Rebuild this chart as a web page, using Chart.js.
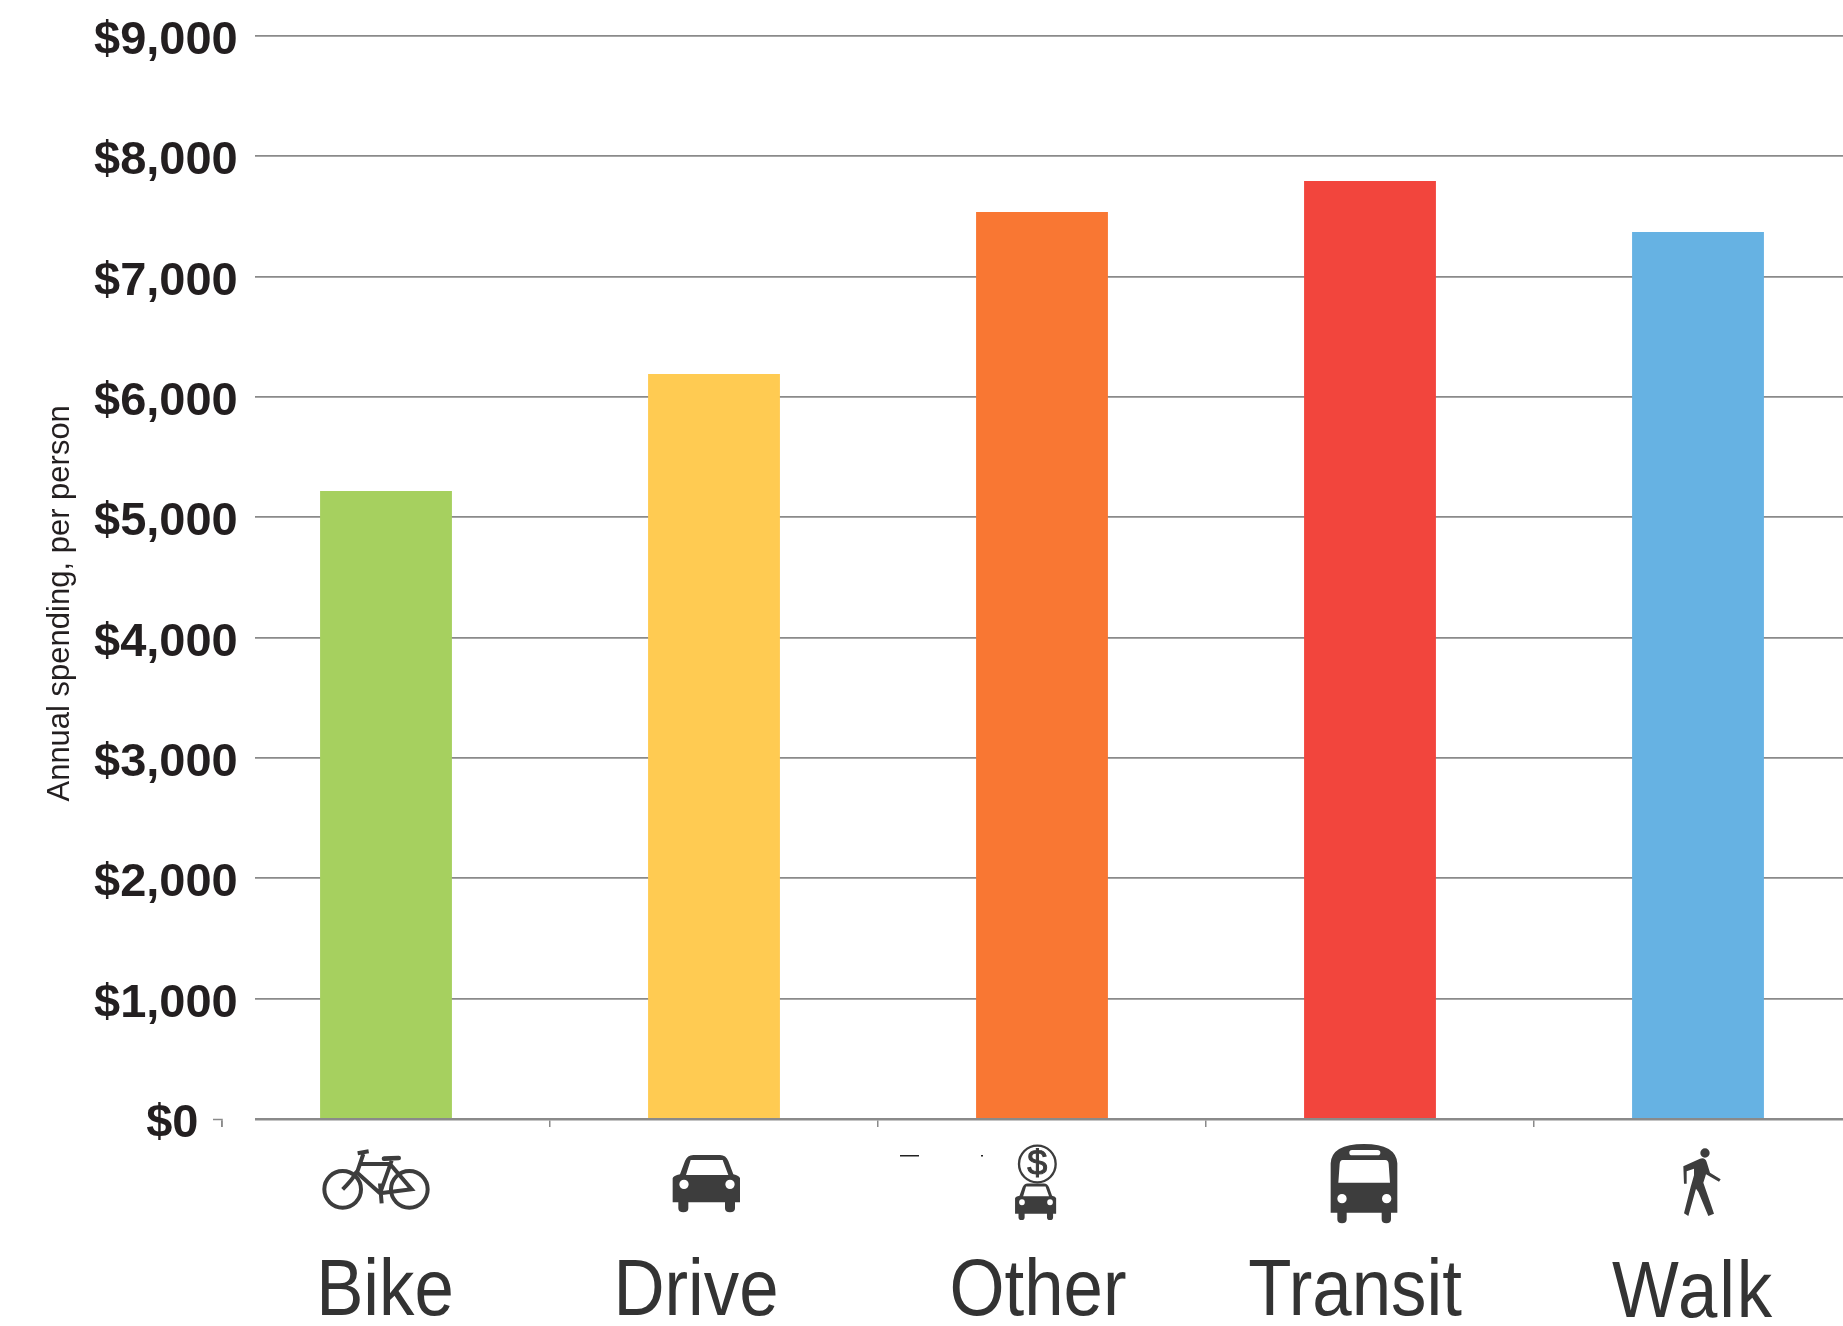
<!DOCTYPE html>
<html>
<head>
<meta charset="utf-8">
<title>Annual spending per person</title>
<script src="https://cdn.jsdelivr.net/npm/chart.js@4"></script>
<style>
    html, body { margin: 0; padding: 0; background: #fff; overflow: hidden; }
    canvas { display: block; }
</style>
</head>
<body>
<canvas id="bar-chart" width="1880" height="1326"></canvas>
<script>
const categories = ["Bike", "Drive", "Other", "Transit", "Walk"]
const spending = [5219, 6191, 7538, 7795, 7371]
const barColors = ["#a6d05f", "#ffcb52", "#f97733", "#f2453d", "#66b2e3"]
const yTickLabels = ["$0", "$1,000", "$2,000", "$3,000", "$4,000", "$5,000", "$6,000", "$7,000", "$8,000", "$9,000"]
const yAxisTitle = "Annual spending, per person"

const gridColor = "#8a8a8a"
const iconColor = "#3d3d3d"

// there is no narrow font installed, so the big labels are squeezed by hand.
// they also do not sit exactly under their bars in the original
const labelShift = [-1, -18, -4, -15, -5]
const labelDrop = [0, 0, 0, 0, 2]
const labelTracking = [0, 0, 0, 0, 2]
const labelSqueeze = 0.885

// icon outlines, in units of a third of a pixel
const carBody = "M38 100 Q40 92 60 88 L75 48 Q82 30 100 30 L180 30 Q198 30 205 48 L220 88 Q238 92 240 100 L240 172 L225 172 L225 190 Q225 202 210 202 Q195 202 195 190 L195 172 L85 172 L85 190 Q85 202 70 202 Q55 202 55 190 L55 172 L38 172 Z " +
    "M92 45 L188 45 L205 90 L78 90 Z " +
    "M86 118 A14 14 0 1 0 58 118 A14 14 0 1 0 86 118 Z " +
    "M224 118 A14 14 0 1 0 196 118 A14 14 0 1 0 224 118 Z"

const busBody = "M32 190 L32 70 Q35 12 132 12 Q228 12 232 70 L232 218 L213 218 L213 238 Q213 250 199 250 Q185 250 185 238 L185 218 L80 218 L80 238 Q80 250 66 250 Q52 250 52 238 L52 218 L32 218 Z " +
    "M68 60 L196 60 Q205 60 206 72 L210 128 L55 128 L59 72 Q60 60 68 60 Z " +
    "M96 30 L172 30 Q181 30 181 38 Q181 46 172 46 L96 46 Q88 46 88 38 Q88 30 96 30 Z " +
    "M80 176 A14 14 0 1 0 52 176 A14 14 0 1 0 80 176 Z " +
    "M214 176 A14 14 0 1 0 186 176 A14 14 0 1 0 214 176 Z"

const walkerBody = "M40 73 L90 50 Q105 45 110 60 L120 92 L152 112 L147 119 L108 97 L100 122 L120 180 L132 215 L115 222 L85 150 L78 140 L55 222 L42 214 L62 135 L72 100 L72 80 L50 88 L50 125 L42 125 Z " +
    "M119 33 A14 14 0 1 0 91 33 A14 14 0 1 0 119 33 Z"

const bikeFrame = "M160 42 L143 92 Q128 118 98 148 M150 72 L240 72 M135 92 L210 160 M245 62 L210 160 M240 72 L305 148 L210 160 M143 40 L176 34 M210 130 L215 190"

const Icons = {
    start(ctx, x, y) {
        ctx.save()
        ctx.translate(x, y)
        ctx.scale(1 / 3, 1 / 3)
        ctx.fillStyle = iconColor
        ctx.strokeStyle = iconColor
    },

    bike(ctx, x, y) {
        this.start(ctx, x, y)
        ctx.lineWidth = 12
        ctx.beginPath()
        ctx.arc(98, 148, 55, 0, Math.PI * 2)
        ctx.moveTo(353, 148)
        ctx.arc(298, 148, 55, 0, Math.PI * 2)
        ctx.stroke()
        ctx.stroke(new Path2D(bikeFrame))
        ctx.lineCap = "round"
        ctx.lineWidth = 14
        ctx.stroke(new Path2D("M222 56 L266 54"))
        ctx.restore()
    },

    car(ctx, x, y) {
        this.start(ctx, x, y)
        ctx.fill(new Path2D(carBody), "evenodd")
        ctx.restore()
    },

    other(ctx, x, y) {
        this.start(ctx, x, y)
        ctx.lineWidth = 7
        ctx.beginPath()
        ctx.arc(112, 72, 55, 0, Math.PI * 2)
        ctx.stroke()
        ctx.font = "108px 'Liberation Sans'"
        ctx.textAlign = "center"
        ctx.textBaseline = "middle"
        ctx.lineWidth = 3
        ctx.fillText("$", 112, 74)
        ctx.strokeText("$", 112, 74)
        ctx.translate(22, 111)
        ctx.scale(0.61, 0.64)
        ctx.fill(new Path2D(carBody), "evenodd")
        ctx.restore()
    },

    bus(ctx, x, y) {
        this.start(ctx, x, y)
        ctx.fill(new Path2D(busBody), "evenodd")
        ctx.restore()
    },

    walker(ctx, x, y) {
        this.start(ctx, x, y)
        ctx.fill(new Path2D(walkerBody))
        ctx.restore()
    }
}

// gridlines stop short of the tick labels, the white strip hides that part of them
const gridGap = {
    id: "gridGap",
    beforeDatasetsDraw(chart) {
        const { ctx, chartArea } = chart
        ctx.save()
        ctx.fillStyle = "#fff"
        ctx.fillRect(chartArea.left - 2, 0, 35, chartArea.bottom + 2)

        // little hook left of the first tick
        ctx.strokeStyle = gridColor
        ctx.lineWidth = 1.5
        ctx.beginPath()
        ctx.moveTo(chartArea.left - 9, chartArea.bottom + 0.5)
        ctx.lineTo(chartArea.left, chartArea.bottom + 0.5)
        ctx.lineTo(chartArea.left, chartArea.bottom + 8)
        ctx.stroke()
        ctx.restore()
    }
}

const bottomRow = {
    id: "bottomRow",
    afterDraw(chart) {
        const { ctx } = chart
        const xScale = chart.scales.x
        const top = chart.chartArea.bottom

        Icons.bike(ctx, xScale.getPixelForValue(0) - 76, top + 21)
        Icons.car(ctx, xScale.getPixelForValue(1) - 54, top + 26)
        Icons.other(ctx, xScale.getPixelForValue(2) - 42, top + 21)
        Icons.bus(ctx, xScale.getPixelForValue(3) - 50, top + 21)
        Icons.walker(ctx, xScale.getPixelForValue(4) - 28, top + 23)

        // stray marks left over beside the middle icon
        ctx.fillStyle = "#222"
        ctx.fillRect(xScale.getPixelForValue(2) - 142, top + 36, 19, 1.5)
        ctx.fillRect(xScale.getPixelForValue(2) - 61, top + 36, 2, 1.5)

        categories.forEach((category, index) => {
            ctx.save()
            ctx.translate(xScale.getPixelForValue(index) + labelShift[index], top + 196 + labelDrop[index])
            ctx.scale(labelSqueeze, 1)
            ctx.font = "80px 'Liberation Sans'"
            ctx.letterSpacing = labelTracking[index] + "px"
            ctx.textAlign = "center"
            ctx.textBaseline = "alphabetic"
            ctx.fillStyle = "#333333"
            ctx.fillText(category, 0, 0)
            ctx.restore()
        })
    }
}

let barChart = new Chart(document.getElementById("bar-chart"), {
    type: "bar",
    data: {
        labels: categories,
        datasets: [
            {
                label: "Annual spending, per person",
                data: spending,
                backgroundColor: barColors,
                borderWidth: 0,
                categoryPercentage: 1,
                barPercentage: 0.402
            }
        ]
    },
    options: {
        responsive: false,
        animation: false,
        layout: {
            padding: { top: 36, right: 18 }
        },
        plugins: {
            legend: { display: false },
            tooltip: { enabled: false }
        },
        scales: {
            x: {
                afterFit(scale) { scale.height = 207 },
                grid: {
                    drawOnChartArea: false,
                    drawTicks: true,
                    tickLength: 8,
                    color: gridColor,
                    lineWidth: 1.5
                },
                border: { color: gridColor, width: 2.5 },
                ticks: { display: false }
            },
            y: {
                min: 0,
                max: 9000,
                afterFit(scale) { scale.width = 222 },
                grid: {
                    drawTicks: false,
                    color: gridColor,
                    lineWidth: 1.8
                },
                border: { display: false },
                ticks: {
                    z: 1,
                    stepSize: 1000,
                    // mirror stops the labels being clipped to the axis box
                    mirror: true,
                    padding: -128,
                    labelOffset: 5,
                    color: "#231f20",
                    font: { family: "'Liberation Sans'", size: 47, weight: "bold" },
                    callback(value, index) {
                        // $0 is right of the others
                        return value === 0 ? "\u00a0\u00a0\u00a0\u00a0" + yTickLabels[index] : yTickLabels[index]
                    }
                },
                title: {
                    display: true,
                    text: yAxisTitle + "\u00a0".repeat(6),
                    color: "#231f20",
                    padding: { top: 42, bottom: 0 },
                    font: { family: "'Liberation Sans'", size: 31 }
                }
            }
        }
    },
    plugins: [gridGap, bottomRow]
})
</script>
</body>
</html>
